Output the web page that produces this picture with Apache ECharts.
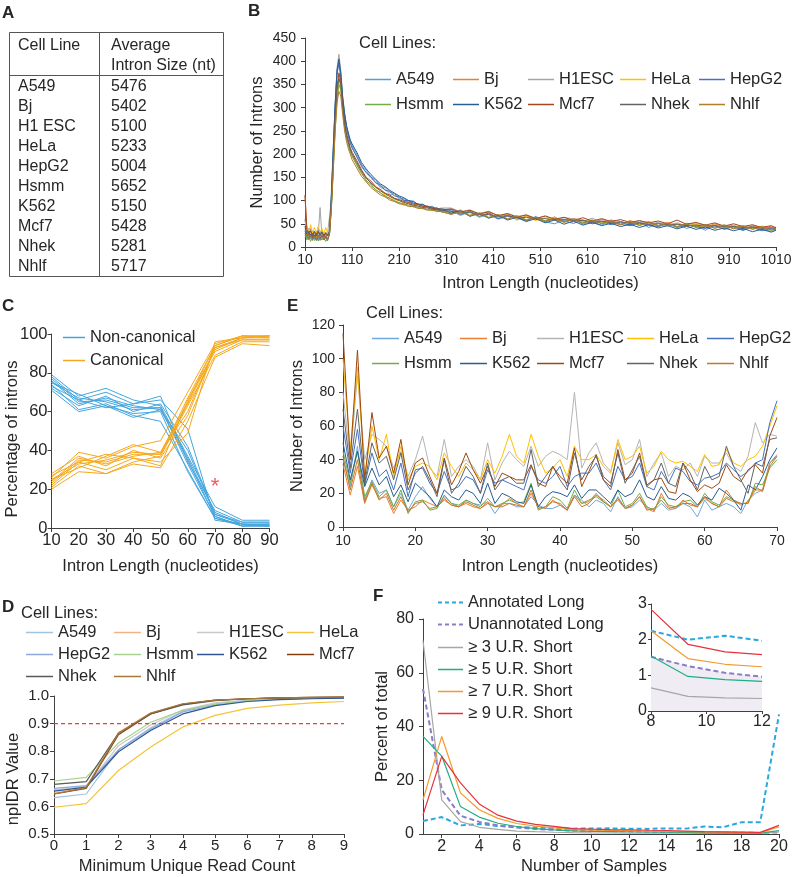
<!DOCTYPE html>
<html><head><meta charset="utf-8">
<script src="https://cdn.jsdelivr.net/npm/echarts@6/dist/echarts.min.js"></script>
<style>html,body{margin:0;padding:0;background:#fff}#c{width:793px;height:877px}</style>
</head><body><div id="c"></div>
<script>
const FONT = '"Liberation Sans", Arial, Helvetica, sans-serif';

// ---------- Panel A: table ----------
const tableCellLines = ['A549','Bj','H1 ESC','HeLa','HepG2','Hsmm','K562','Mcf7','Nhek','Nhlf'];
const tableAvgIntron = [5476,5402,5100,5233,5004,5652,5150,5428,5281,5717];

// ---------- legend names ----------
const cellLines = ['A549','Bj','H1ESC','HeLa','HepG2','Hsmm','K562','Mcf7','Nhek','Nhlf'];

// ---------- Panel B ----------
const bX = [10,14,18,22,26,30,34,38,42,46,50,54,58,62,66,70,74,78,82,86,90,94,98,102,106,110,
120,130,140,150,160,170,180,190,200,210,220,230,240,250,260,270,280,290,300,
320,340,360,380,400,420,440,460,480,500,520,540,560,580,600,620,640,660,680,700,720,740,760,780,800,820,840,860,880,900,920,940,960,980,1000,1010];
const bTicks = [10,110,210,310,410,510,610,710,810,910,1010];
const bA549 = [60,22,35,18,30,20,28,15,33,22,30,18,26,40,120,215,310,380,400,372,320,285,262,240,232,218,200,178,165,150,145,130,128,118,115,106,104,98,99,90,92,85,88,80,83,
78,68,76,64,70,60,66,63,55,66,54,50,58,60,49,55,47,58,49,46,53,42,52,45,50,40,46,36,48,39,44,35,45,37,34,38];
const bBj = [110,35,22,40,18,32,20,36,19,30,17,28,16,28,85,170,265,330,368,350,300,262,238,225,208,198,178,160,142,136,122,118,108,106,98,96,90,93,86,89,82,86,78,82,75,
72,80,68,73,74,62,70,58,67,60,56,65,53,61,58,50,60,52,48,57,50,55,46,53,44,51,49,42,50,43,47,38,46,41,44,40];
const bH1ESC = [40,28,40,24,35,22,34,26,85,24,30,26,30,34,100,195,300,385,415,380,325,290,258,245,226,212,196,172,160,148,140,128,124,114,112,104,102,96,96,90,90,86,86,82,84,
84,76,80,72,77,68,72,66,69,62,66,58,63,61,55,62,53,58,55,50,56,49,53,47,52,45,50,47,43,48,42,46,40,45,41,43];
const bHeLa = [55,45,30,48,28,42,30,44,32,40,28,42,30,36,90,175,260,325,358,345,300,262,240,222,210,198,182,162,148,138,128,122,112,110,102,100,94,95,88,90,84,86,80,82,77,
75,71,78,66,72,63,69,60,66,57,63,59,54,60,55,58,51,56,50,55,48,53,45,51,49,44,50,42,47,40,46,43,39,44,36,39];
const bHepG2 = [35,20,32,22,30,18,29,22,28,19,27,20,24,32,105,205,300,372,395,365,315,280,255,238,224,214,194,175,160,152,138,134,122,120,110,108,100,100,94,93,88,88,83,84,78,
81,70,77,66,73,61,68,63,58,64,55,60,56,51,58,50,55,48,54,46,52,47,44,50,42,47,44,40,46,38,44,37,42,35,40,36];
const bHsmm = [30,15,25,12,24,14,22,13,21,15,20,12,18,26,80,165,250,315,350,338,292,258,234,218,205,195,176,158,144,132,124,116,110,104,100,95,93,89,88,85,83,81,79,78,76,
71,77,68,73,64,69,61,67,59,64,56,62,55,59,52,58,51,56,49,54,47,53,46,51,44,49,43,48,41,46,40,45,39,43,37,41];
const bK562 = [45,25,18,28,16,26,14,25,17,24,15,22,14,30,110,210,305,380,405,375,322,288,262,246,230,222,204,182,168,156,146,136,130,122,116,110,106,100,98,92,92,86,86,81,82,
73,78,66,72,62,68,58,64,55,61,52,58,49,56,47,53,46,51,44,49,42,48,41,46,39,45,38,43,36,41,35,40,33,38,32,36];
const bMcf7 = [112,38,26,35,22,34,24,32,25,33,22,30,24,34,95,185,280,345,375,358,305,268,245,230,214,204,186,166,150,142,130,124,116,112,105,102,98,96,92,92,87,88,83,84,80,
82,75,79,71,76,67,72,64,69,61,67,60,64,57,63,56,61,55,59,53,57,52,56,50,58,49,53,47,52,45,50,44,48,42,46,41];
const bNhek = [25,32,28,34,26,33,27,35,26,32,25,31,26,32,95,185,275,340,362,350,302,265,240,226,210,200,182,163,148,138,129,121,115,109,104,100,96,93,90,88,85,84,81,80,78,
77,73,74,70,70,66,67,63,64,60,61,58,59,56,57,54,56,52,54,51,52,49,50,48,49,46,47,45,46,43,44,42,43,40,41,40];
const bNhlf = [20,28,15,26,14,24,16,25,14,23,16,24,15,28,85,165,250,310,335,325,285,250,228,212,200,188,170,152,140,128,120,112,108,101,98,93,92,87,87,83,83,79,80,76,77,
70,76,67,73,63,70,60,67,57,64,55,62,53,60,51,58,50,56,48,55,46,53,45,51,43,50,42,48,40,47,39,45,38,43,36,40];

// ---------- Panel C ----------
const cX = [10,20,30,40,50,60,70,80,90];
const cNonCanonical = [
  [79,68,72,66,63,37,11,4,4],
  [78,66,70,64,68,34,9,3,3],
  [77,65,66,62,62,36,8,2,2],
  [76,64,67,63,61,40,7,2,1],
  [75,67,65,61,62,33,6,1,2],
  [75,69,63,57,61,35,6,1,1],
  [74,61,64,58,55,30,5,1,1],
  [73,66,62,64,66,51,4,2,1],
  [72,63,68,60,64,42,7,3,3],
  [71,60,63,59,60,29,5,2,2]
];
const cCanonical = [
  [21,32,28,34,37,63,89,96,96],
  [22,34,30,36,32,66,91,97,97],
  [23,35,34,38,38,64,92,98,98],
  [24,36,33,37,39,60,93,98,99],
  [25,33,35,39,38,67,94,99,98],
  [25,31,37,43,39,65,94,99,99],
  [26,39,36,42,45,70,95,99,99],
  [27,34,38,36,34,49,96,98,99],
  [28,37,32,40,36,58,93,97,97],
  [20,29,28,33,31,55,88,95,94]
];
const cStar = [70,21];

// ---------- Panel E ----------
const eX = [10,11,12,13,14,15,16,17,18,19,20,21,22,23,24,25,26,27,28,29,30,31,32,33,34,35,36,37,38,39,40,41,42,43,44,45,46,47,48,49,50,51,52,53,54,55,56,57,58,59,60,61,62,63,64,65,66,67,68,69,70];
const eA549 = [40,24,48,16,28,20,22,12,20,10, 18,24,17,12,18,14,12,16,14,13, 15,8,14,14,12,12,18,13,11,11, 13,10,19,16,12,16,14,9,18,11, 12,16,12,10,14,10,11,14,12,6, 16,10,12,14,12,8,16,20,22,38, 42];
const eBj = [37,19,36,14,25,17,18,8,16,10, 12,16,14,12,17,13,12,14,12,11, 15,12,13,17,14,12,20,12,11,16, 13,10,19,14,15,20,15,12,16,11, 13,18,11,9,20,12,11,16,13,12, 17,14,12,22,16,13,15,22,22,38, 43];
const eH1ESC = [80,40,90,40,55,52,48,35,45,30, 40,54,35,30,52,30,36,40,36,28, 50,28,38,45,40,36,48,36,42,45, 43,40,80,35,44,50,38,33,50,37, 40,52,30,38,44,30,36,34,38,30, 42,38,38,44,36,33,42,62,50,55, 54];
const eHeLa = [100,45,95,30,60,40,55,30,48,28, 36,38,36,28,44,36,30,38,34,28, 40,32,42,55,42,38,55,42,32,35, 40,30,48,40,40,43,36,32,52,40, 42,48,32,36,45,40,38,39,36,33, 43,36,37,46,38,36,40,42,48,60, 72];
const eHepG2 = [60,32,58,25,44,30,34,22,38,18, 34,35,26,20,33,22,24,30,28,20, 34,26,28,26,24,22,36,28,26,30, 36,24,30,32,32,38,28,22,36,28, 30,38,24,22,33,26,35,33,27,25, 29,30,32,38,34,30,33,38,40,62, 75];
const eHsmm = [45,26,45,18,27,18,22,12,22,8, 15,16,10,11,19,14,13,16,14,12, 17,12,14,16,14,15,26,10,12,18, 16,11,22,14,16,18,15,12,22,12, 14,20,12,10,18,13,12,15,16,12, 20,15,13,18,16,14,14,26,25,35, 40];
const eK562 = [50,28,45,24,35,25,30,18,25,15, 26,22,18,12,22,18,16,22,20,14, 26,14,20,18,15,14,25,12,18,21, 20,18,25,17,22,22,18,14,22,18, 20,28,18,16,24,17,16,20,18,13, 18,16,23,20,16,10,25,22,30,40, 47];
const eMcf7 = [115,40,105,28,68,41,48,32,52,25, 38,41,30,20,41,25,33,44,34,26, 36,24,32,30,28,28,37,26,24,36, 30,26,47,24,33,43,28,24,46,28, 32,44,25,28,29,21,20,38,28,21, 25,23,26,37,30,27,34,37,32,54, 65];
const eNhek = [70,35,70,26,50,38,42,28,44,22, 32,36,28,18,40,20,26,36,30,20, 38,22,28,30,26,26,46,24,30,36, 28,22,44,28,36,42,30,26,44,26, 34,42,24,28,38,26,24,38,32,22, 36,28,30,48,36,28,20,38,36,52, 53];
const eNhlf = [42,22,40,15,26,16,20,10,18,9, 14,15,11,12,16,13,12,15,13,11, 14,12,12,14,13,12,22,11,12,15, 14,10,18,12,14,19,16,12,17,11, 13,18,10,11,16,11,12,14,14,12, 18,14,12,17,15,14,14,24,21,36, 42];

// ---------- Panel D ----------
const dX = [0,1,2,3,4,5,6,7,8,9];
const dA549 = [0.632,0.645,0.805,0.885,0.945,0.972,0.984,0.990,0.992,0.993];
const dBj = [0.648,0.668,0.868,0.938,0.972,0.985,0.990,0.993,0.995,0.996];
const dH1ESC = [0.660,0.672,0.820,0.895,0.950,0.975,0.985,0.990,0.993,0.995];
const dHeLa = [0.597,0.610,0.730,0.815,0.888,0.930,0.955,0.967,0.975,0.980];
const dHepG2 = [0.665,0.675,0.805,0.880,0.942,0.968,0.982,0.989,0.992,0.993];
const dHsmm = [0.692,0.705,0.830,0.905,0.948,0.970,0.983,0.989,0.992,0.994];
const dK562 = [0.655,0.670,0.798,0.875,0.935,0.965,0.980,0.987,0.990,0.992];
const dMcf7 = [0.645,0.665,0.860,0.935,0.970,0.985,0.990,0.993,0.995,0.996];
const dNhek = [0.680,0.690,0.865,0.935,0.968,0.983,0.990,0.993,0.994,0.995];
const dNhlf = [0.645,0.668,0.865,0.938,0.972,0.985,0.990,0.993,0.995,0.996];
const dThreshold = 0.9;

// ---------- Panel F ----------
const fX = [1,2,3,4,5,6,7,8,9,10,11,12,13,14,15,16,17,18,19,20];
const fTicks = [2,4,6,8,10,12,14,16,18,20];
const fNames = ['Annotated Long','Unannotated Long','≥ 3 U.R. Short','≥ 5 U.R. Short','≥ 7 U.R. Short','≥ 9 U.R. Short'];
const fAnnotated = [4.8,6.3,3.2,3.7,3.0,2.6,2.4,2.25,2.0,2.05,2.1,1.95,1.9,2.1,2.0,2.8,2.5,4.4,4.4,44.5];
const fUnannotated = [54,16.4,6.8,4.5,3.2,2.4,1.9,1.55,1.3,1.15,1.05,0.96,0.85,0.75,0.65,0.55,0.5,0.45,0.4,0.6];
const fGe3 = [72,12.7,4.6,2.5,1.7,1.1,0.85,0.66,0.5,0.42,0.38,0.36,0.33,0.3,0.28,0.25,0.24,0.22,0.2,0.8];
const fGe5 = [36.3,29,10.2,6.3,4,2.8,2,1.52,1.15,0.95,0.88,0.83,0.75,0.7,0.6,0.5,0.45,0.4,0.35,1.3];
const fGe7 = [12.7,36.3,15.3,9,5.8,3.9,2.9,2.25,1.6,1.4,1.3,1.25,1.1,1.0,0.9,0.8,0.7,0.6,0.5,2.6];
const fGe9 = [7.1,28.9,19,11.2,7,4.8,3.6,2.85,2.0,1.8,1.65,1.58,1.4,1.3,1.1,0.9,0.8,0.7,0.6,3.2];
// inset (zoom of samples 8–12)
const insetX = [8,9.33,10.67,12];
const insetAnnotated = [2.25,2.0,2.11,1.97];
const insetUnannotated = [1.52,1.26,1.07,0.96];
const insetGe3 = [0.65,0.41,0.37,0.35];
const insetGe5 = [1.54,0.97,0.88,0.83];
const insetGe7 = [2.25,1.47,1.31,1.24];
const insetGe9 = [2.85,1.87,1.66,1.58];

// ---------- styling ----------
const colB = ['#5B9BD5','#ED7D31','#A5A5A5','#FFC000','#4472C4','#70AD47','#255E91','#A8461E','#636363','#B07D2B'];
const colE = ['#6FA8DC','#ED7D31','#B4B4B4','#FFC000','#4472C4','#70AD47','#255E91','#9E480E','#636363','#C0792A'];
const colD = ['#9DC3E6','#F4B183','#C9C9C9','#F5C43A','#8EA9DB','#A9D18E','#2F5597','#843C0C','#595959','#A47A3A'];
const colF = ['#29A8E0','#8B7CC8','#A6A6A6','#1FAD84','#F39A2E','#E8313A'];
const colNC = '#45A6DD', colC = '#F5A81C', colThreshold = '#F03C3C';
const AX = '#404040', TXT = '#262626';
const ICON_SOLID = 'rect';
const ICON_DASH = 'path://M0,0h4v2h-4zM7,0h4v2h-4zM14,0h4v2h-4zM21,0h4v2h-4z';

function pairs(xs, ys){ return xs.map((x,i)=>[x, ys[i]]); }
function line(name, gi, xs, ys, color, width, dashed, extra){
  return Object.assign({
    type:'line', name, xAxisIndex:gi, yAxisIndex:gi, data:pairs(xs, ys),
    symbol:'none', showSymbol:false, smooth:false, silent:true,
    lineStyle:{color, width, type: dashed ? [5,3] : 'solid'},
    itemStyle:{color}, emphasis:{disabled:true}
  }, extra || {});
}
function mkAxis(p){
  const a = {
    type:'value', gridIndex:p.grid, min:p.min, max:p.max,
    axisLine:{show:true, onZero:false, lineStyle:{color:AX, width:1}},
    axisTick:{show:true, length:p.tick || 4, lineStyle:{color:AX}},
    splitLine:{show:false},
    axisLabel:{color:TXT, fontFamily:FONT, fontSize:p.fs, margin:p.margin, formatter: p.fmt || (v => String(v))},
    name:p.name || '', nameLocation:'middle', nameGap:p.nameGap || 0, nameMoveOverlap:false,
    nameTextStyle:{color:TXT, fontFamily:FONT, fontSize:p.ns || 16, padding:p.namePad || 0}
  };
  if (p.interval != null) a.interval = p.interval;
  if (p.custom){ a.axisLabel.customValues = p.custom; a.axisTick.customValues = p.custom; }
  return a;
}
function mkLegend(name, left, yc, iw, fs, dashed){
  return {show:true, data:[{name, icon: dashed ? ICON_DASH : ICON_SOLID}], left, top: Math.round(yc - fs/2), orient:'horizontal',
    padding:0, itemGap:0, itemWidth:iw, itemHeight: dashed ? 2 : 1.5, selectedMode:false,
    formatter: n => n.slice(n.indexOf('|') + 1),
    textStyle:{fontSize:fs, color:TXT, fontFamily:FONT}};
}

const grids = [
  {left:305, top:38, width:471, height:209},   // B
  {left:51.5, top:334, width:218, height:194}, // C
  {left:343, top:325, width:434, height:202},  // E
  {left:54, top:696, width:290, height:138},   // D
  {left:423, top:619, width:356, height:215},  // F
  {left:651, top:604, width:111, height:107}   // F inset
].map(g => Object.assign({containLabel:false, outerBoundsMode:'none', show:false}, g));

const xAxes = [
  mkAxis({grid:0, min:10, max:1010, custom:bTicks, fs:14, margin:6, name:'Intron Length (nucleotides)', nameGap:28, ns:16.5}),
  mkAxis({grid:1, min:10, max:90, interval:10, fs:16.5, margin:4, name:'Intron Length (nucleotides)', nameGap:30, ns:16.5}),
  mkAxis({grid:2, min:10, max:70, interval:10, fs:14, margin:7, name:'Intron Length (nucleotides)', nameGap:31, ns:16.5}),
  mkAxis({grid:3, min:0, max:9, interval:1, fs:15, margin:4, name:'Minimum Unique Read Count', nameGap:24, ns:16.5, namePad:[0,24,0,0]}),
  mkAxis({grid:4, min:1, max:20, custom:fTicks, fs:16, margin:5, name:'Number of Samples', nameGap:24, ns:16.5, namePad:[0,14,0,0]}),
  mkAxis({grid:5, min:8, max:12, interval:2, fs:16, margin:3, tick:3})
];
const yAxes = [
  mkAxis({grid:0, min:0, max:450, interval:50, fs:14, margin:9, name:'Number of Introns', nameGap:39, ns:16.5}),
  mkAxis({grid:1, min:0, max:100, interval:20, fs:16.5, margin:4, name:'Percentage of introns', nameGap:31, ns:16.5, namePad:[0,16,0,0]}),
  mkAxis({grid:2, min:0, max:120, interval:20, fs:14, margin:8, name:'Number of Introns', nameGap:37, ns:16.5}),
  mkAxis({grid:3, min:0.5, max:1.0, interval:0.1, fs:15, margin:5, name:'npIDR Value', nameGap:32, ns:16.5, fmt:v => v.toFixed(1), namePad:[0,28,0,0]}),
  mkAxis({grid:4, min:0, max:80, interval:20, fs:16, margin:9, name:'Percent of total', nameGap:32, ns:16.5}),
  mkAxis({grid:5, min:0, max:3, interval:1, fs:16, margin:4, tick:3})
];

const series = [];
const legends = [];
// B
const bData = [bA549,bBj,bH1ESC,bHeLa,bHepG2,bHsmm,bK562,bMcf7,bNhek,bNhlf];
const bLegLeft = [365,453,528,620,699];
cellLines.forEach((n,i) => {
  series.push(line('B|'+n, 0, bX, bData[i], colB[i], 1, false));
  legends.push(mkLegend('B|'+n, bLegLeft[i%5], i<5 ? 79 : 104, 26, 16.5));
});
// C
cNonCanonical.forEach((d,i) => series.push(line(i === 0 ? 'C|Non-canonical' : 'C|nc'+i, 1, cX, d, colNC, 1, false)));
cCanonical.forEach((d,i) => series.push(line(i === 0 ? 'C|Canonical' : 'C|c'+i, 1, cX, d, colC, 1, false)));
series.push({type:'scatter', name:'C|star', xAxisIndex:1, yAxisIndex:1, data:[cStar], symbol:'circle', symbolSize:1,
  itemStyle:{color:'rgba(0,0,0,0)'}, silent:true,
  label:{show:true, position:'inside', formatter:'*', color:'#E8313A', fontSize:22, fontFamily:FONT}});
legends.push(mkLegend('C|Non-canonical', 63, 337, 22, 16.5));
legends.push(mkLegend('C|Canonical', 63, 360, 22, 16.5));
// E
const eData = [eA549,eBj,eH1ESC,eHeLa,eHepG2,eHsmm,eK562,eMcf7,eNhek,eNhlf];
const eLegLeft = [372,460,537,627,707];
cellLines.forEach((n,i) => {
  series.push(line('E|'+n, 2, eX, eData[i], colE[i], 1, false));
  legends.push(mkLegend('E|'+n, eLegLeft[i%5], i<5 ? 338 : 363, 27, 16.5));
});
// D
const dData = [dA549,dBj,dH1ESC,dHeLa,dHepG2,dHsmm,dK562,dMcf7,dNhek,dNhlf];
const dLegLeft = [26,114,197,287];
const dLegTop = [632,654,676];
cellLines.forEach((n,i) => {
  series.push(line('D|'+n, 3, dX, dData[i], colD[i], 1.2, false));
  legends.push(mkLegend('D|'+n, dLegLeft[i%4], dLegTop[Math.floor(i/4)], 27, 16.5));
});
series.push({type:'line', name:'D|threshold', xAxisIndex:3, yAxisIndex:3, silent:true, symbol:'none', z:5,
  data:[[dX[0], dThreshold],[dX[dX.length-1], dThreshold]],
  lineStyle:{color:colThreshold, type:[4,3], width:1.4, opacity:1}, itemStyle:{color:colThreshold}});
// F
const fData = [fAnnotated,fUnannotated,fGe3,fGe5,fGe7,fGe9];
const fLegTop = [602,624,647,669,691,713];
fNames.forEach((n,i) => {
  series.push(line('F|'+n, 4, fX, fData[i], colF[i], i < 2 ? 2 : 1.2, i < 2));
  legends.push(mkLegend('F|'+n, 438, fLegTop[i], 25, 16.5, i < 2));
});
// F inset
const insetData = [insetAnnotated,insetUnannotated,insetGe3,insetGe5,insetGe7,insetGe9];
[1,0,2,3,4,5].forEach(i => {
  const extra = i === 1 ? {areaStyle:{color:'#EFECF4', opacity:1}} : {};
  series.push(line('I|'+fNames[i], 5, insetX, insetData[i], colF[i], i < 2 ? 2 : 1.2, i < 2, extra));
});

// ---------- graphic: panel letters, table, "Cell Lines:" ----------
function txt(x, y, s, size, weight, align){
  return {type:'text', x, y, silent:true, style:{text:s, fontSize:size, fontFamily:FONT, fontWeight:weight||'normal',
    fill:TXT, textAlign:align||'left', textVerticalAlign:'middle', verticalAlign:'middle'}};
}
const graphics = [];
[['A',2,13],['B',248,11],['C',2,306],['D',2,607],['E',287,306],['F',373,596]].forEach(([s,x,y]) => graphics.push(txt(x,y,s,17,'bold')));
graphics.push({type:'rect', silent:true, shape:{x:9.5,y:32.5,width:214,height:244}, style:{fill:'none', stroke:'#555', lineWidth:1}});
graphics.push({type:'line', silent:true, shape:{x1:99.5,y1:32.5,x2:99.5,y2:276.5}, style:{stroke:'#555', lineWidth:1}});
graphics.push({type:'line', silent:true, shape:{x1:9.5,y1:75.5,x2:223.5,y2:75.5}, style:{stroke:'#555', lineWidth:1}});
graphics.push(txt(18, 46, 'Cell Line', 16));
graphics.push(txt(111, 46, 'Average', 16));
graphics.push(txt(111, 66, 'Intron Size (nt)', 16));
tableCellLines.forEach((n,i) => {
  graphics.push(txt(18, 87 + 20*i, n, 16));
  graphics.push(txt(111, 87 + 20*i, String(tableAvgIntron[i]), 16));
});
graphics.push(txt(359, 43, 'Cell Lines:', 16.5));
graphics.push(txt(366, 313, 'Cell Lines:', 16.5));
graphics.push(txt(21, 613, 'Cell Lines:', 16.5));

const chart = echarts.init(document.getElementById('c'), null, {renderer:'canvas'});
chart.setOption({
  animation:false,
  backgroundColor:'#fff',
  textStyle:{fontFamily:FONT},
  grid:grids, xAxis:xAxes, yAxis:yAxes, legend:legends, series, graphic:graphics
});
</script></body></html>
